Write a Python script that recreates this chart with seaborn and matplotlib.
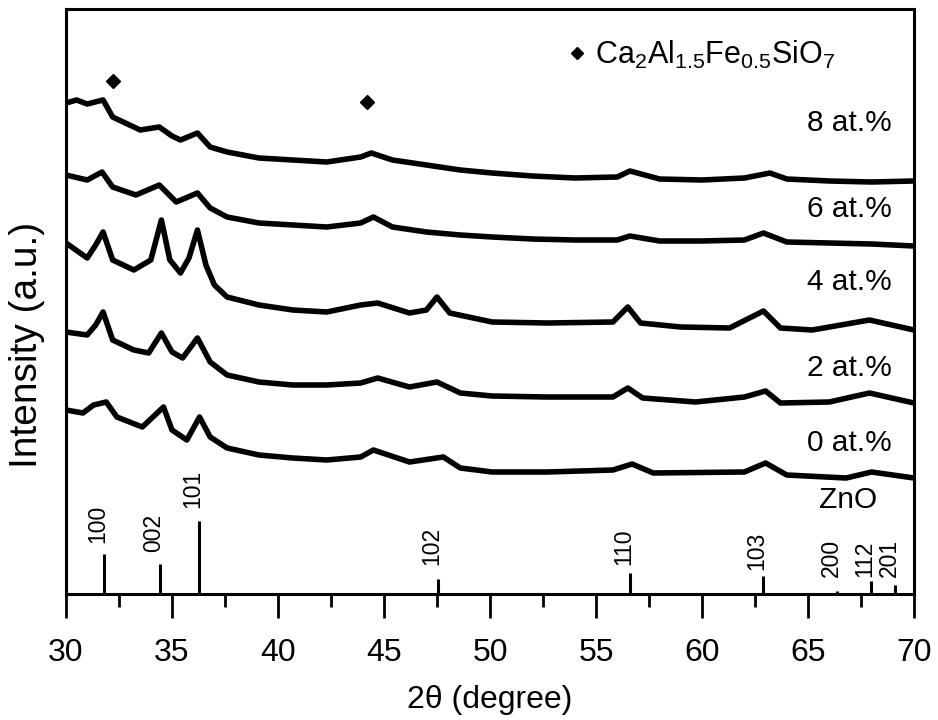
import matplotlib
matplotlib.use("Agg")
import matplotlib.pyplot as plt
import seaborn as sns
import pandas as pd
from matplotlib.lines import Line2D
from matplotlib.ticker import MultipleLocator

# ---------------- data ----------------
theta_8 = [30.0, 30.5, 31.0, 31.75, 32.2, 33.0, 33.5, 34.4, 35.0, 35.4, 36.2, 36.8, 37.6, 39.1,
           40.7, 42.3, 43.9, 44.4, 45.4, 47.0, 48.6, 50.1, 52.0, 54.0, 56.0, 56.6, 58.0, 60.0,
           62.0, 63.2, 64.0, 66.0, 68.0, 70.0]
int_8 = [491, 494, 490, 494, 477, 469, 464, 467, 458, 454, 461, 447, 442, 436,
         434, 432, 437, 441, 434, 429, 424, 421, 418, 416, 417, 423, 415, 414,
         416, 421, 415, 413, 412, 413]

theta_6 = [30.0, 31.0, 31.7, 32.2, 33.3, 34.4, 35.2, 36.2, 36.8, 37.6, 39.1, 40.7, 42.3, 43.9,
           44.5, 45.4, 47.0, 48.6, 50.1, 52.0, 54.0, 56.0, 56.6, 58.0, 60.0, 62.0, 62.9, 64.0,
           66.0, 68.0, 70.0]
int_6 = [419, 414, 422, 407, 399, 409, 392, 401, 386, 377, 371, 369, 367, 371,
         377, 367, 362, 359, 357, 355, 354, 354, 358, 353, 353, 354, 361, 352,
         351, 350, 348]

theta_4 = [30.0, 31.0, 31.4, 31.75, 32.2, 33.2, 34.0, 34.5, 34.9, 35.4, 35.8, 36.2, 36.6, 37.0,
           37.6, 39.1, 40.7, 42.3, 43.9, 44.7, 46.2, 47.0, 47.5, 48.1, 50.1, 52.7, 55.8, 56.5,
           57.1, 59.0, 61.3, 62.9, 63.7, 65.2, 67.9, 70.0]
int_4 = [351, 336, 349, 362, 334, 324, 334, 374, 334, 321, 336, 364, 329, 309,
         297, 289, 284, 282, 289, 291, 281, 284, 297, 281, 272, 271, 272, 287,
         271, 267, 266, 283, 266, 264, 274, 264]

theta_2 = [30.0, 31.0, 31.4, 31.75, 32.2, 33.2, 33.9, 34.5, 35.0, 35.5, 36.2, 36.8, 37.6, 39.1,
           40.7, 42.3, 43.9, 44.7, 46.2, 47.5, 48.6, 50.1, 52.7, 55.8, 56.5, 57.2, 59.7, 62.0,
           63.0, 63.7, 66.0, 67.9, 70.0]
int_2 = [262, 259, 269, 282, 254, 244, 241, 261, 242, 236, 256, 232, 219, 212,
         209, 209, 211, 216, 207, 212, 201, 198, 197, 197, 206, 196, 192, 197,
         203, 191, 192, 201, 191]

theta_0 = [30.0, 30.8, 31.3, 31.9, 32.4, 33.6, 34.6, 35.0, 35.7, 36.3, 36.8, 37.6, 39.1, 40.7,
           42.3, 43.9, 44.5, 46.2, 47.8, 48.6, 50.1, 52.7, 55.8, 56.7, 57.7, 62.0, 63.0, 64.0,
           66.8, 68.0, 70.0]
int_0 = [184, 181, 189, 192, 177, 167, 187, 164, 154, 177, 157, 146, 139, 136,
         134, 137, 144, 132, 137, 126, 122, 122, 124, 130, 121, 122, 131, 119,
         116, 122, 116]

series_labels = ["8 at.%", "6 at.%", "4 at.%", "2 at.%", "0 at.%"]

# ZnO reference pattern
zno_theta = [31.77, 34.42, 36.25, 47.54, 56.60, 62.86, 66.38, 67.96, 69.10]
zno_height = [40, 30, 73, 15, 21, 18, 3, 13, 9]
zno_hkl = ["100", "002", "101", "102", "110", "103", "200", "112", "201"]

# Ca2Al1.5Fe0.5SiO7 marks
phase_theta = [32.2, 44.2]
phase_int = [513, 492]
phase_label = r"Ca$_2$Al$_{1.5}$Fe$_{0.5}$SiO$_7$"

# ---------------- style ----------------
sns.set_style("ticks")
plt.rcParams["font.family"] = ["Liberation Sans", "DejaVu Sans"]
plt.rcParams["mathtext.fontset"] = "custom"
plt.rcParams["mathtext.rm"] = "Liberation Sans"
plt.rcParams["mathtext.it"] = "Liberation Sans:italic"
plt.rcParams["mathtext.default"] = "regular"
for key in ["axes.edgecolor", "xtick.color", "ytick.color", "text.color", "axes.labelcolor"]:
    plt.rcParams[key] = "black"

fig = plt.figure(figsize=(9.38, 7.2), dpi=100)
ax = fig.add_axes([66 / 938, 1 - 594 / 720, 848 / 938, 585 / 720])

curves = [(theta_8, int_8), (theta_6, int_6), (theta_4, int_4), (theta_2, int_2), (theta_0, int_0)]
for (tx, iy), lab in zip(curves, series_labels):
    df = pd.DataFrame({"theta": tx, "I": iy})
    sns.lineplot(data=df, x="theta", y="I", color="black", lw=4.0, ax=ax, legend=False)

# ZnO sticks
ax.vlines(zno_theta, 0, zno_height, color="black", lw=2.2)
label_base = [51, 42, 86, 29, 29, 24, 17, 17, 17]
for t, b, hkl in zip(zno_theta, label_base, zno_hkl):
    ax.text(t - 0.28, b, hkl, rotation=90, ha="center", va="bottom", fontsize=16.5)

# phase markers
ax.plot(phase_theta, phase_int, ls="none", marker="D", color="black", ms=7)

# series labels
label_y = [471, 385, 312, 226, 151]
for lab, y in zip(series_labels, label_y):
    ax.text(68.95, y, lab, ha="right", va="center", fontsize=21.5)
ax.text(68.25, 94, "ZnO", ha="right", va="center", fontsize=21.5)

# legend
handle = Line2D([], [], ls="none", marker="D", color="black", ms=6)
ax.legend([handle], [phase_label], loc="center left", bbox_to_anchor=(0.566, 0.921),
          frameon=False, fontsize=22, handletextpad=0.1, handlelength=1.0, borderpad=0)

ax.set_xlim(30, 70)
ax.set_ylim(0, 585)
ax.xaxis.set_major_locator(MultipleLocator(5))
ax.xaxis.set_minor_locator(MultipleLocator(2.5))
ax.tick_params(axis="x", which="major", direction="out", length=17, width=2, labelsize=23, pad=15)
ax.tick_params(axis="x", which="minor", direction="out", length=9.5, width=2)
ax.set_yticks([])
for s in ax.spines.values():
    s.set_linewidth(2.2)
    s.set_visible(True)
    s.set_color("black")

ax.set_xlabel("2θ (degree)", fontsize=23, labelpad=12)
ax.set_ylabel("Intensity (a.u.)", fontsize=28)
ax.yaxis.label.set(ha="center", va="center", rotation_mode="anchor")
ax.yaxis.set_label_coords(-0.046, 0.425)

fig.savefig("out.png", dpi=100)
